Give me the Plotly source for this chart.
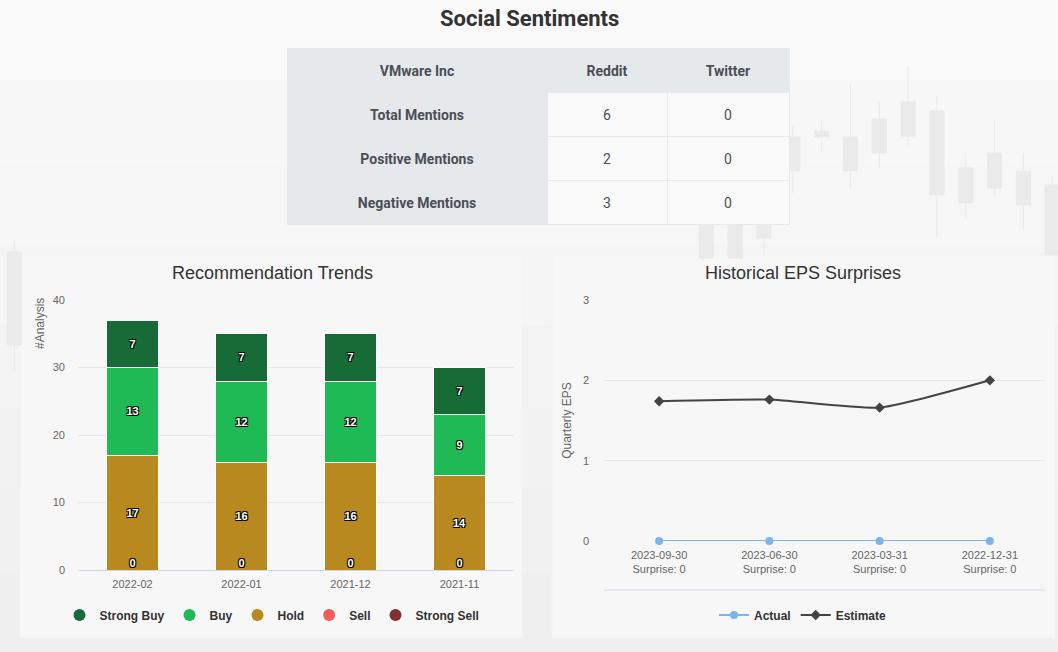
import plotly.graph_objects as go

W, H = 1058, 652

# ---------------- data ----------------
company = "VMware Inc"
sent_cols = ["Reddit", "Twitter"]
sent_rows = ["Total Mentions", "Positive Mentions", "Negative Mentions"]
reddit_vals = [6, 2, 3]
twitter_vals = [0, 0, 0]

periods = ["2022-02", "2022-01", "2021-12", "2021-11"]
strong_buy = [7, 7, 7, 7]
buy = [13, 12, 12, 9]
hold = [17, 16, 16, 14]
sell = [0, 0, 0, 0]
strong_sell = [0, 0, 0, 0]

quarters = ["2023-09-30", "2023-06-30", "2023-03-31", "2022-12-31"]
surprises = [0, 0, 0, 0]
eps_actual = [0, 0, 0, 0]
eps_estimate = [1.74, 1.76, 1.66, 2.0]

# faint decorative candlesticks in the page background (arbitrary price scale)
bg_idx = [0, 24, 25, 26, 27, 28, 29, 30, 31, 32, 33, 34, 35, 36]
bg_open = [400, 434, 435, 499, 515, 521, 515, 533, 550, 541, 484, 499, 481, 467]
bg_close = [307, 394, 394, 414, 481, 515, 481, 499, 516, 457, 449, 464, 447, 397]
bg_high = [412, 400, 469, 526, 526, 533, 568, 550, 586, 556, 499, 533, 499, 476]
bg_low = [282, 394, 394, 396, 459, 499, 464, 484, 505, 414, 434, 457, 422, 396]

# ---------------- helpers ----------------
def px_x(x):
    return x / W

def px_y(y):
    return 1 - y / H

CHART_FONT = "Liberation Sans"
TABLE_FONT = "Roboto"
OUTLINE = "-1px -1px 0 #000, 1px -1px 0 #000, -1px 1px 0 #000, 1px 1px 0 #000"

def cell(txt):
    # a small leading line pushes the 14px text to the vertical middle of the 44px cell
    return '&nbsp;<br><span style="font-size:14px">' + str(txt) + '</span>'

fig = go.Figure()

# ---------------- background candles ----------------
fig.add_trace(go.Candlestick(
    x=bg_idx, open=bg_open, close=bg_close, high=bg_high, low=bg_low,
    increasing=dict(line=dict(color="#e9e9e9", width=1), fillcolor="#eaeaea"),
    decreasing=dict(line=dict(color="#e9e9e9", width=1), fillcolor="#eaeaea"),
    whiskerwidth=0, xaxis="x3", yaxis="y3", showlegend=False, hoverinfo="skip",
))

# ---------------- table ----------------
hdr_fill = "#e6e9ec"
body_fill = "#f9f9f9"
fig.add_trace(go.Table(
    domain=dict(x=[px_x(287), px_x(789)], y=[px_y(225), px_y(48)]),
    columnwidth=[260, 120, 122],
    header=dict(
        values=[cell(f"<b>{company}</b>")] + [cell(f"<b>{c}</b>") for c in sent_cols],
        fill_color=hdr_fill,
        line=dict(color="#e6e8eb", width=1),
        align="center",
        height=44,
        font=dict(family=TABLE_FONT, size=9, color="#4a4f56"),
    ),
    cells=dict(
        values=[[cell(f"<b>{r}</b>") for r in sent_rows],
                [cell(v) for v in reddit_vals],
                [cell(v) for v in twitter_vals]],
        fill_color=[[hdr_fill] * 3, [body_fill] * 3, [body_fill] * 3],
        line=dict(color="#e6e8eb", width=1),
        align="center",
        height=44,
        font=dict(family=TABLE_FONT, size=9, color="#4a4f56"),
    ),
))

# ---------------- recommendation bars ----------------
rec_series = [
    ("Strong Buy", strong_buy, "#176b37"),
    ("Buy", buy, "#1fba55"),
    ("Hold", hold, "#b8891e"),
    ("Sell", sell, "#f45b5b"),
    ("Strong Sell", strong_sell, "#813131"),
]
for name, vals, col in reversed(rec_series):
    fig.add_trace(go.Bar(
        x=periods, y=vals, name=name, marker=dict(color=col, line=dict(color="#ffffff", width=1)),
        text=[str(v) if v else "" for v in vals], textposition="inside",
        insidetextanchor="middle", constraintext="none",
        textfont=dict(family=CHART_FONT, size=11, color="#ffffff", weight="bold", shadow=OUTLINE),
        width=0.48, showlegend=False, xaxis="x", yaxis="y",
    ))
fig.add_trace(go.Scatter(
    x=periods, y=sell, mode="text", text=[str(v) for v in sell], textposition="top center",
    textfont=dict(family=CHART_FONT, size=11, color="#ffffff", weight="bold", shadow=OUTLINE),
    showlegend=False, cliponaxis=False, xaxis="x", yaxis="y", hoverinfo="skip",
))
for name, vals, col in rec_series:
    fig.add_trace(go.Scatter(
        x=[None], y=[None], mode="markers", name=name,
        marker=dict(symbol="circle", size=12, color=col),
        legend="legend", xaxis="x", yaxis="y",
    ))

# ---------------- EPS chart ----------------
fig.add_trace(go.Scatter(
    x=quarters, y=eps_actual, name="Actual", mode="lines+markers",
    line=dict(color="#7cb5ec", width=2), marker=dict(symbol="circle", size=8, color="#7cb5ec"),
    xaxis="x2", yaxis="y2", legend="legend2", cliponaxis=False,
))
fig.add_trace(go.Scatter(
    x=quarters, y=eps_estimate, name="Estimate", mode="lines+markers",
    line=dict(color="#434348", width=2, shape="spline", smoothing=0.5),
    marker=dict(symbol="diamond", size=8, color="#434348"),
    xaxis="x2", yaxis="y2", legend="legend2", cliponaxis=False,
))

tick_font = dict(family=CHART_FONT, size=11, color="#666666")

bg_bands = ["#f9f9f9", "#f7f7f7", "#f6f6f6", "#f5f5f5", "#f3f3f3", "#f2f2f2", "#f1f1f1", "#efefef"]
shapes = []
n = len(bg_bands)
for i, c in enumerate(bg_bands):
    shapes.append(dict(type="rect", xref="paper", yref="paper", x0=0, x1=1,
                       y0=1 - (i + 1) / n, y1=1 - i / n, fillcolor=c, line=dict(width=0), layer="below"))
shapes += [
    dict(type="rect", xref="paper", yref="paper", x0=px_x(20), x1=px_x(522), y0=px_y(638), y1=px_y(255),
         fillcolor="#f7f7f7", line=dict(color="#f3f3f3", width=1), layer="below"),
    dict(type="rect", xref="paper", yref="paper", x0=px_x(552), x1=px_x(1055), y0=px_y(638), y1=px_y(255),
         fillcolor="#f7f7f7", line=dict(color="#f3f3f3", width=1), layer="below"),
    dict(type="line", xref="paper", yref="paper", x0=px_x(604), x1=px_x(1045), y0=px_y(590), y1=px_y(590),
         line=dict(color="#ccd6eb", width=1), layer="below"),
]

fig.update_layout(
    width=W, height=H,
    margin=dict(l=0, r=0, t=0, b=0, autoexpand=False),
    paper_bgcolor="#f4f4f4",
    plot_bgcolor="rgba(0,0,0,0)",
    barmode="stack",
    font=dict(family=CHART_FONT, color="#333333"),
    xaxis=dict(
        domain=[px_x(78), px_x(514)], anchor="y", type="category",
        categoryorder="array", categoryarray=periods, range=[-0.5, 3.5],
        showline=True, linecolor="#ccd6eb", linewidth=1, ticks="", showgrid=False,
        tickfont=tick_font, ticklabelstandoff=4, fixedrange=True,
    ),
    yaxis=dict(
        domain=[px_y(570), px_y(300)], anchor="x", range=[0, 40], dtick=10,
        showgrid=True, gridcolor="#e6e6e6", gridwidth=1, zeroline=False,
        tickfont=tick_font, ticklabelstandoff=12, fixedrange=True,
    ),
    xaxis2=dict(
        domain=[px_x(604), px_x(1045)], anchor="y2", type="category",
        categoryorder="array", categoryarray=quarters, range=[-0.5, 3.5],
        tickvals=quarters,
        ticktext=[f"{q}<br>Surprise: {s}" for q, s in zip(quarters, surprises)],
        showline=False, ticks="", showgrid=False, tickfont=tick_font, ticklabelstandoff=6,
        fixedrange=True,
    ),
    yaxis2=dict(
        domain=[px_y(541), px_y(300)], anchor="x2", range=[0, 3], dtick=1,
        showgrid=True, gridcolor="#e6e6e6", gridwidth=1, zeroline=False,
        tickfont=tick_font, ticklabelstandoff=14,
        title=dict(text="Quarterly EPS", font=dict(family=CHART_FONT, size=12, color="#666666"), standoff=8),
        fixedrange=True,
    ),
    xaxis3=dict(domain=[0, 1], anchor="y3", range=[-0.5, 36.2], visible=False, fixedrange=True,
                rangeslider=dict(visible=False)),
    yaxis3=dict(domain=[0, 1], anchor="x3", range=[0, 652], visible=False, fixedrange=True),
    legend=dict(
        orientation="h", x=px_x(272), xanchor="center", y=px_y(615), yanchor="middle",
        font=dict(family=CHART_FONT, size=12, color="#333333", weight="bold"),
        bgcolor="rgba(0,0,0,0)", itemclick=False, traceorder="normal",
    ),
    legend2=dict(
        orientation="h", x=px_x(803), xanchor="center", y=px_y(615), yanchor="middle",
        font=dict(family=CHART_FONT, size=12, color="#333333", weight="bold"),
        bgcolor="rgba(0,0,0,0)", itemclick=False, traceorder="normal",
    ),
    shapes=shapes,
    annotations=[
        dict(text="<b>Social Sentiments</b>", x=0.5, y=px_y(19), xref="paper", yref="paper",
             showarrow=False, xanchor="center", yanchor="middle",
             font=dict(family=TABLE_FONT, size=22, color="#333333")),
        dict(text="Recommendation Trends", x=px_x(272), y=px_y(273), xref="paper", yref="paper",
             showarrow=False, xanchor="center", yanchor="middle",
             font=dict(family=CHART_FONT, size=18, color="#333333")),
        dict(text="Historical EPS Surprises", x=px_x(803), y=px_y(273), xref="paper", yref="paper",
             showarrow=False, xanchor="center", yanchor="middle",
             font=dict(family=CHART_FONT, size=18, color="#333333")),
        dict(text="#Analysis", x=px_x(40), y=px_y(324), xref="paper", yref="paper",
             showarrow=False, xanchor="center", yanchor="middle", textangle=-90,
             font=dict(family=CHART_FONT, size=12, color="#666666")),
    ],
)

fig.write_html("out.html")
